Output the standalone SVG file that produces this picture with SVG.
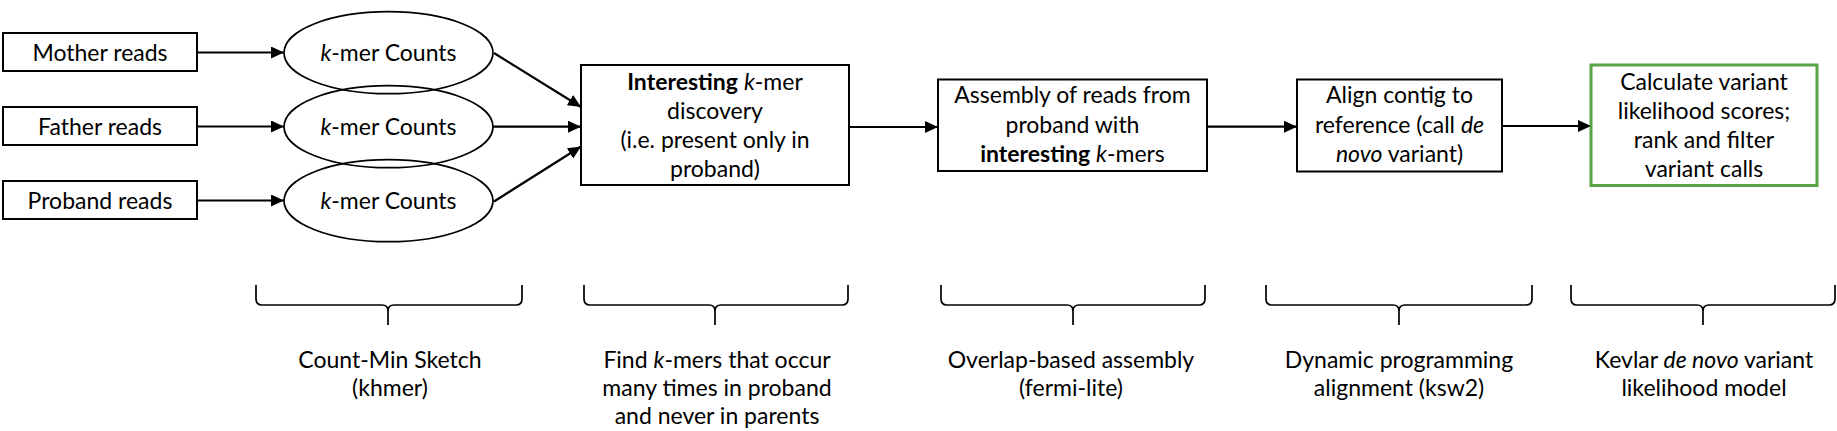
<svg xmlns="http://www.w3.org/2000/svg" width="1837" height="431" viewBox="0 0 1837 431">
<style>
text{font-family:Lato,"Liberation Sans",sans-serif;font-size:23px;fill:#000;text-anchor:middle}
.b{font-weight:bold}
.i{font-style:italic}
.box{fill:#fff;stroke:#000;stroke-width:2}
.green{fill:#fff;stroke:#5aa447;stroke-width:3}
.ell{fill:none;stroke:#000;stroke-width:1.7}
.arr{fill:none;stroke:#000;stroke-width:2.2;marker-end:url(#ah)}
.brace{fill:none;stroke:#000;stroke-width:1.7}
</style>
<defs>
<marker id="ah" markerUnits="userSpaceOnUse" markerWidth="14" markerHeight="13" refX="13" refY="6" orient="auto">
<path d="M0,0 L13,6 L0,12 z" fill="#000"/>
</marker>
</defs>
<g id="connectors">
<line class="arr" x1="197" y1="52.5" x2="284" y2="52.5"/>
<line class="arr" x1="197" y1="126.5" x2="284" y2="126.5"/>
<line class="arr" x1="197" y1="200.5" x2="284" y2="200.5"/>
<line class="arr" x1="494" y1="53" x2="581" y2="107"/>
<line class="arr" x1="493" y1="126.7" x2="581" y2="126.7"/>
<line class="arr" x1="494" y1="201.5" x2="581" y2="146.5"/>
<line class="arr" x1="849" y1="127" x2="938" y2="127"/>
<line class="arr" x1="1207" y1="126.7" x2="1297" y2="126.7"/>
<line class="arr" x1="1502" y1="126" x2="1591" y2="126"/>
</g>
<g id="mother">
<rect class="box" x="3" y="33" width="194" height="38"/>
<text x="100" y="60.7">Mother reads</text>
</g>
<g id="father">
<rect class="box" x="3" y="107" width="194" height="38"/>
<text x="100" y="135">Father reads</text>
</g>
<g id="proband">
<rect class="box" x="3" y="181" width="194" height="38"/>
<text x="100" y="209">Proband reads</text>
</g>
<g id="kmer-mother">
<ellipse class="ell" cx="388.5" cy="52.7" rx="104.5" ry="41"/>
<text x="388.5" y="60.7"><tspan class="i">k</tspan>-mer Counts</text>
</g>
<g id="kmer-father">
<ellipse class="ell" cx="388.5" cy="126.7" rx="104.5" ry="41"/>
<text x="388.5" y="134.5"><tspan class="i">k</tspan>-mer Counts</text>
</g>
<g id="kmer-proband">
<ellipse class="ell" cx="388.5" cy="200.7" rx="104.5" ry="41"/>
<text x="388.5" y="209"><tspan class="i">k</tspan>-mer Counts</text>
</g>
<g id="interesting">
<rect class="box" x="581" y="65" width="268" height="120"/>
<text x="715" y="89.5"><tspan class="b">Interesting</tspan> <tspan class="i">k</tspan>-mer</text>
<text x="715" y="118.8">discovery</text>
<text x="715" y="148">(i.e. present only in</text>
<text x="715" y="177.3">proband)</text>
</g>
<g id="assembly">
<rect class="box" x="938" y="79.5" width="269" height="91.5"/>
<text x="1072.5" y="103.3">Assembly of reads from</text>
<text x="1072.5" y="132.7">proband with</text>
<text x="1072.5" y="162"><tspan class="b">interesting</tspan> <tspan class="i">k</tspan>-mers</text>
</g>
<g id="align">
<rect class="box" x="1297" y="79.5" width="205" height="92"/>
<text x="1399.5" y="103.3">Align contig to</text>
<text x="1399.5" y="132.7">reference (call <tspan class="i">de</tspan></text>
<text x="1399.5" y="162"><tspan class="i">novo</tspan> variant)</text>
</g>
<g id="calculate">
<rect class="green" x="1591" y="65" width="226" height="120.5"/>
<text x="1704" y="89.5">Calculate variant</text>
<text x="1704" y="118.8">likelihood scores;</text>
<text x="1704" y="148">rank and filter</text>
<text x="1704" y="177.3">variant calls</text>
</g>
<g id="brace-khmer">
<path class="brace" d="M256,285 L256,299 Q256,305 262,305 L382,305 Q388,305 388,311 L388,325 M388,311 Q388,305 394,305 L516,305 Q522,305 522,299 L522,285"/>
<text x="390" y="367.5">Count-Min Sketch</text>
<text x="390" y="395.5">(khmer)</text>
</g>
<g id="brace-find">
<path class="brace" d="M584,285 L584,299 Q584,305 590,305 L709,305 Q715,305 715,311 L715,325 M715,311 Q715,305 721,305 L842,305 Q848,305 848,299 L848,285"/>
<text x="717" y="367.5">Find <tspan class="i">k</tspan>-mers that occur</text>
<text x="717" y="395.5">many times in proband</text>
<text x="717" y="423.5">and never in parents</text>
</g>
<g id="brace-overlap">
<path class="brace" d="M941,285 L941,299 Q941,305 947,305 L1067,305 Q1073,305 1073,311 L1073,325 M1073,311 Q1073,305 1079,305 L1199,305 Q1205,305 1205,299 L1205,285"/>
<text x="1071" y="367.5">Overlap-based assembly</text>
<text x="1071" y="395.5">(fermi-lite)</text>
</g>
<g id="brace-dynamic">
<path class="brace" d="M1266,285 L1266,299 Q1266,305 1272,305 L1393,305 Q1399,305 1399,311 L1399,325 M1399,311 Q1399,305 1405,305 L1526,305 Q1532,305 1532,299 L1532,285"/>
<text x="1399" y="367.5">Dynamic programming</text>
<text x="1399" y="395.5">alignment (ksw2)</text>
</g>
<g id="brace-kevlar">
<path class="brace" d="M1571,285 L1571,299 Q1571,305 1577,305 L1697,305 Q1703,305 1703,311 L1703,325 M1703,311 Q1703,305 1709,305 L1829,305 Q1835,305 1835,299 L1835,285"/>
<text x="1704" y="367.5">Kevlar <tspan class="i">de novo</tspan> variant</text>
<text x="1704" y="395.5">likelihood model</text>
</g>
</svg>
